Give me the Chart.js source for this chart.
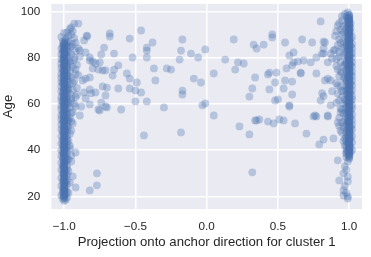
<!DOCTYPE html>
<html>
<head>
<meta charset="utf-8">
<script src="https://cdn.jsdelivr.net/npm/chart.js@4.4.1/dist/chart.umd.min.js"></script>
<style>
  html, body { margin: 0; padding: 0; background: #ffffff; }
</style>
</head>
<body>
<canvas id="chart" width="371" height="257"></canvas>
<script>
// tick labels
const xTicks = [-1.0, -0.5, 0.0, 0.5, 1.0]
const yTicks = [20, 40, 60, 80, 100]

// dense band at projection ~ -1
const leftBandAge = [
  18.1,18.6,19.0,19.5,20.1,20.4,21.0,21.6,22.0,22.5,
  23.1,23.4,24.0,24.6,25.0,25.5,26.1,26.4,27.0,27.6,
  28.0,28.5,29.1,29.4,30.0,30.6,31.0,31.5,32.1,32.4,
  33.0,33.6,34.0,34.5,35.1,35.4,36.0,36.6,37.0,37.5,
  38.1,38.4,39.0,39.6,40.0,40.5,41.1,41.4,42.0,42.6,
  43.0,43.5,44.1,44.4,45.0,45.6,46.0,46.5,47.1,47.4,
  48.0,48.6,49.0,49.5,50.1,50.4,51.0,51.6,52.0,52.5,
  53.1,53.4,54.0,54.6,55.0,55.5,56.1,56.4,57.0,57.6,
  58.0,58.5,59.1,59.4,60.0,60.6,61.0,61.5,62.1,62.4,
  63.0,63.6,64.0,64.5,65.1,65.4,66.0,66.6,67.0,67.5,
  68.1,68.4,69.0,69.6,70.0,70.5,71.1,71.4,72.0,72.6,
  73.0,73.5,74.1,74.4,75.0,75.6,76.0,76.5,77.1,77.4,
  78.0,78.6,79.0,79.5,80.1,80.4,81.0,81.6,82.0,82.5,
  83.1,83.4,84.0,84.6,85.0,85.5,86.1,86.4,87.0,87.6
]
const leftBandX = [
  -1.00,-0.99,-1.01,-0.98,-1.00,-1.02,-0.99,-1.01,-0.98,-1.00,
  -1.01,-0.99,-1.00,-1.02,-0.98,-1.00,-0.99,-1.01,-0.98,-1.00,
  -1.02,-0.99,-1.00,-0.98,-1.01,-1.00,-0.99,-1.02,-0.98,-1.00,
  -1.01,-0.98,-1.00,-1.02,-0.99,-1.00,-0.98,-1.01,-0.99,-1.02,
  -0.98,-1.00,-1.01,-0.98,-1.02,-0.99,-1.00,-0.98,-1.01,-1.00,
  -1.02,-0.98,-0.99,-1.01,-0.98,-1.00,-1.02,-0.98,-1.00,-0.99,
  -1.01,-0.98,-1.02,-0.99,-1.00,-0.98,-1.02,-0.98,-1.00,-1.01,
  -0.98,-1.02,-0.98,-1.00,-1.02,-0.98,-1.01,-0.98,-0.99,-1.02,
  -0.98,-1.00,-1.02,-0.98,-0.99,-1.01,-0.98,-1.02,-0.98,-1.00,
  -1.02,-0.98,-0.99,-1.01,-0.98,-1.02,-0.98,-1.00,-0.98,-1.02,
  -0.99,-0.98,-1.01,-1.02,-0.98,-1.00,-0.98,-1.02,-0.98,-1.00,
  -1.02,-0.98,-0.99,-1.01,-0.98,-1.02,-0.98,-1.00,-0.98,-1.02,
  -0.99,-0.98,-1.01,-1.02,-0.98,-1.00,-0.98,-1.02,-0.99,-1.01,
  -0.98,-1.00,-1.02,-0.98,-1.01,-0.99,-1.00,-0.98,-1.01,-0.99
]
// many samples sit exactly on -1
const leftCoreX = -1.0
const leftCoreAge = [
  19.3,19.8,20.3,20.8,21.3,21.8,22.3,22.8,23.3,23.8,
  24.3,24.8,25.3,25.8,26.3,26.8,27.3,27.8,28.3,28.8,
  29.3,29.8,30.3,30.8,31.3,31.8,32.3,32.8,33.3,33.8,
  34.3,34.8,35.3,35.8,36.3,36.8,37.3,37.8,38.3,38.8,
  39.3,39.8,40.3,40.8,41.3,41.8,42.3,42.8,43.3,43.8,
  44.3,44.8,45.3,45.8,46.3,46.8,47.3,47.8,48.3,48.8,
  49.3,49.8,50.3,50.8,51.3,51.8,52.3,52.8,53.3,53.8,
  54.3,54.8,55.3,55.8,56.3,56.8,57.3,57.8,58.3,58.8,
  59.3,59.8,60.3,60.8,61.3,61.8,62.3,62.8,63.3,63.8,
  64.3,64.8,65.3,65.8,66.3,66.8,67.3,67.8,68.3,68.8,
  69.3,69.8,70.3,70.8,71.3,71.8,72.3,72.8,73.3,73.8,
  74.3,74.8,75.3,75.8,76.3,76.8,77.3,77.8,78.3,78.8,
  79.3,79.8,80.3,80.8,81.3,81.8,82.3,82.8,83.3,83.8,
  84.3,84.8,85.3,85.8,86.3,86.8
]

// dense band at projection ~ +1
const rightBandAge = [
  38.0,38.6,39.0,39.5,40.1,40.4,41.0,41.6,42.0,42.5,
  43.1,43.4,44.0,44.6,45.0,45.5,46.1,46.4,47.0,47.6,
  48.0,48.5,49.1,49.4,50.0,50.6,51.0,51.5,52.1,52.4,
  53.0,53.6,54.0,54.5,55.1,55.4,56.0,56.6,57.0,57.5,
  58.1,58.4,59.0,59.6,60.0,60.5,61.1,61.4,62.0,62.6,
  63.0,63.5,64.1,64.4,65.0,65.6,66.0,66.5,67.1,67.4,
  68.0,68.6,69.0,69.5,70.1,70.4,71.0,71.6,72.0,72.5,
  73.1,73.4,74.0,74.6,75.0,75.5,76.1,76.4,77.0,77.6,
  78.0,78.5,79.1,79.4,80.0,80.6,81.0,81.5,82.1,82.4,
  83.0,83.6,84.0,84.5,85.1,85.4,86.0,86.6,87.0,87.5,
  88.1,88.4,89.0,89.6,90.0,90.5,91.1,91.4,92.0,92.6,
  93.0,93.5,94.1,94.4,95.0,95.6,96.0,96.5,97.1,97.6
]
const rightBandX = [
  1.00,0.98,1.01,0.99,1.02,0.98,1.00,1.01,0.98,1.00,
  0.99,1.02,0.98,1.00,1.01,0.98,1.02,0.99,0.98,1.01,
  1.00,0.98,1.02,0.99,1.01,0.98,1.02,0.98,1.00,0.99,
  1.02,0.99,1.01,0.98,1.00,1.02,0.98,0.99,1.01,0.99,
  1.02,0.98,1.00,1.02,0.98,0.99,1.01,0.98,1.02,0.99,
  1.00,1.02,0.98,0.99,1.01,0.98,1.02,0.99,1.00,0.98,
  1.02,0.99,1.01,0.98,1.02,0.98,1.00,0.99,1.02,0.99,
  1.01,0.98,1.02,0.98,1.00,0.99,1.02,0.99,1.01,0.98,
  1.02,0.98,1.00,0.99,1.02,0.99,1.01,0.98,1.02,0.98,
  1.00,0.99,1.02,0.99,1.01,0.98,1.02,0.98,1.00,0.99,
  1.01,0.99,1.02,0.98,1.00,0.99,1.01,0.99,1.00,0.98,
  1.01,0.99,1.00,0.98,1.01,0.99,1.00,0.99,1.00,0.99
]
// many samples sit exactly on +1
const rightCoreX = 1.0
const rightCoreAge = [
  36.3,36.8,37.3,37.8,38.3,38.8,39.3,39.8,
  40.3,40.8,41.3,41.8,42.3,42.8,43.3,43.8,44.3,44.8,
  45.3,45.8,46.3,46.8,47.3,47.8,48.3,48.8,49.3,49.8,
  50.3,50.8,51.3,51.8,52.3,52.8,53.3,53.8,54.3,54.8,
  55.3,55.8,56.3,56.8,57.3,57.8,58.3,58.8,59.3,59.8,
  60.3,60.8,61.3,61.8,62.3,62.8,63.3,63.8,64.3,64.8,
  65.3,65.8,66.3,66.8,67.3,67.8,68.3,68.8,69.3,69.8,
  70.3,70.8,71.3,71.8,72.3,72.8,73.3,73.8,74.3,74.8,
  75.3,75.8,76.3,76.8,77.3,77.8,78.3,78.8,79.3,79.8,
  80.3,80.8,81.3,81.8,82.3,82.8,83.3,83.8,84.3,84.8,
  85.3,85.8,86.3,86.8,87.3,87.8,88.3,88.8,89.3,89.8,
  90.3,90.8,91.3,91.8,92.3,92.8,93.3,93.8,94.3,94.8,
  95.3,95.8,96.3,96.8,97.3,97.8,98.4
]

// looser points around the two bands
const haloX = [
  -0.96,-0.98,-0.95,-0.93,-0.97,-1.00,-1.02,-0.99,-0.94,-0.96,
  -0.92,-0.95,-0.93,-0.96,-0.91,-0.94,-0.96,-0.92,-0.95,-0.93,
  -0.96,-0.91,-0.94,-0.96,-0.92,-0.95,-0.93,-0.96,-0.94,-0.96,
  -0.95,-0.97,-0.96,-0.97,-0.96,-0.97,-0.97,-0.96,-0.97,
  -0.94,-0.97,-0.92,-0.95,-0.90,-0.97,-0.93,-0.89,-0.96,-0.92,
  -0.97,-0.90,-0.94,-0.97,-0.91,-0.95,-0.97,-0.92,-0.95,-0.97,
  0.97,0.99,1.00,0.98,0.95,0.93,0.96,0.94,0.91,0.95,
  0.93,0.96,0.92,0.95,0.93,0.96,0.91,0.94,0.96,0.92,
  0.95,0.93,0.96,0.91,0.94,0.96,0.92,0.95,0.93,0.96,
  0.94,0.96,0.93,0.95,0.96,0.95,0.97,0.97,0.98,0.98,
  0.97,0.98,0.99,0.97,0.98,0.99,
  0.95,0.92,0.96,0.90,0.94,0.97,0.90,0.93,0.97,0.91,
  0.94,0.97,0.92,0.95,0.97,0.91,0.95,0.97,0.93,0.96
]
const haloAge = [
  92.5,91.0,90.0,88.5,89.5,90.8,89.0,88.2,86.0,84.5,
  83.0,81.5,80.0,78.5,77.0,76.0,74.5,73.0,71.5,70.0,
  68.5,67.0,66.0,64.5,63.0,61.5,60.0,58.5,56.5,54.0,
  52.5,50.0,47.0,44.0,42.0,36.0,31.0,26.0,21.5,
  91.5,87.0,86.5,85.0,84.0,82.5,79.0,80.5,77.5,75.0,
  72.0,72.5,69.0,66.5,64.0,62.5,60.5,59.0,56.0,53.0,
  99.0,99.6,98.5,97.8,96.2,95.0,93.5,92.0,91.5,90.0,
  88.0,87.0,85.5,84.0,82.5,81.0,79.5,78.0,76.5,75.0,
  73.5,72.0,70.5,69.0,67.5,66.0,64.5,63.0,61.5,60.0,
  58.0,56.0,54.0,52.0,50.0,47.5,45.0,42.0,39.0,37.0,
  33.0,31.5,28.5,24.5,21.5,20.0,
  98.0,94.0,91.0,89.5,86.5,84.5,83.5,80.5,77.0,76.5,
  74.0,71.5,68.0,65.5,62.0,60.5,57.5,53.0,50.5,44.0
]

// sparse points in between
const scatterX = [
  -0.90,-0.84,-0.68,-0.68,-0.54,-0.46,-0.38,-0.42,-0.42,-0.17,
  -0.72,-0.74,-0.65,-0.52,-0.42,-0.19,-0.80,-0.82,-0.78,-0.37,
  -0.28,-0.25,-0.65,-0.62,-0.71,-0.76,-0.66,-0.82,-0.56,-0.54,
  -0.49,-0.36,-0.73,-0.70,-0.62,-0.54,-0.50,-0.46,-0.71,-0.78,
  -0.82,-0.17,-0.17,-0.88,-0.82,-0.74,-0.71,-0.76,-0.60,-0.50,
  -0.42,-0.30,-0.89,-0.93,-0.95,-0.84,-0.86,-0.89,-0.85,-0.82,
  -0.75,-0.80,-0.73,-0.87,-0.85,-0.86,-0.81,-0.85,-0.94,-0.95,
  -0.75,-0.70,-0.44,-0.18,-0.92,-0.96,-0.77,-0.77,-0.82,-0.92,
  -0.94,-0.95,-0.95,-0.18,
  0.80,0.46,0.46,0.19,0.33,0.35,0.40,0.55,0.67,0.74,
  0.82,-0.11,-0.06,-0.01,0.13,0.22,0.26,0.20,0.05,-0.09,
  -0.04,0.34,0.43,0.44,0.49,0.48,0.56,0.60,0.61,0.58,
  0.61,0.64,0.68,0.73,0.77,0.81,0.66,0.60,0.55,0.77,
  0.32,0.30,0.44,0.48,0.50,0.54,0.60,0.58,-0.03,-0.01,
  0.05,0.34,0.37,0.43,0.47,0.51,0.54,0.62,0.75,0.77,
  0.85,0.23,0.80,0.30,0.32,0.70,0.79,0.82,0.89,0.92,
  0.93,0.96,0.96,0.96,0.99,0.99,0.99,0.83,0.82,0.82,
  0.87,0.88,0.85,0.89,0.87,0.83,0.81,0.82,0.88,0.87,
  0.85,0.94,0.92,0.94,0.76,0.58,0.66,0.85,0.35
]
const scatterAge = [
  94.8,89.2,90.5,89.2,88.3,91.8,86.6,84.4,83.1,87.9,
  84.4,81.4,81.8,80.1,80.1,79.2,78.4,78.8,77.5,75.4,
  75.4,74.9,74.9,76.7,74.5,74.9,72.3,71.5,73.2,71.0,
  69.3,70.2,67.6,67.1,66.7,66.7,65.8,65.0,63.7,65.0,
  66.3,65.8,64.1,58.9,59.8,60.6,58.9,57.6,57.6,61.1,
  61.1,58.5,55.0,94.8,93.1,89.6,87.5,83.1,82.3,80.1,
  78.0,75.4,74.5,70.2,71.0,65.0,64.6,62.4,51.6,48.5,
  57.2,58.5,46.4,47.7,39.0,40.8,30.0,24.8,22.6,23.9,
  28.7,35.1,37.7,83.1,
  95.7,90.1,88.8,87.9,85.7,84.0,85.7,86.6,87.9,86.6,
  87.0,81.8,80.1,83.6,79.2,78.0,77.5,74.9,73.2,71.0,
  69.3,71.5,72.8,73.6,73.6,69.3,75.4,76.7,78.0,81.0,
  82.3,78.4,78.8,78.0,80.1,81.8,73.2,69.7,70.2,73.2,
  66.7,63.2,66.3,61.5,62.0,66.7,64.1,58.9,59.4,60.2,
  55.0,52.9,53.3,52.4,51.6,53.3,52.9,51.6,54.6,54.6,
  54.6,50.3,61.5,46.8,30.4,47.2,42.5,44.6,45.1,35.6,
  26.9,30.0,22.6,20.4,26.5,19.1,35.1,86.6,84.0,81.8,
  81.8,79.7,78.0,83.1,70.2,70.2,64.7,63.4,65.5,59.4,
  55.0,56.3,52.0,48.5,55.0,59.4,73.6,71.0,52.9
]

const zip = (xs, ys) => xs.map((x, i) => ({ x: x, y: ys[i] }))
const points = [].concat(
  zip(leftBandX, leftBandAge),
  leftCoreAge.map(a => ({ x: leftCoreX, y: a })),
  zip(rightBandX, rightBandAge),
  rightCoreAge.map(a => ({ x: rightCoreX, y: a })),
  zip(haloX, haloAge),
  zip(scatterX, scatterAge)
)

const fontFamily = "'Liberation Sans', Arial, sans-serif"
const textColor = '#262626'

function fmtX(v) {
  const s = Math.abs(v).toFixed(1)
  return v < 0 ? '\u2212' + s : s
}

// grey plot background like seaborn darkgrid
const plotBackground = {
  id: 'plotBackground',
  beforeDraw(chart) {
    const { ctx, chartArea } = chart
    ctx.save()
    ctx.fillStyle = '#EAEAF2'
    ctx.fillRect(chartArea.left, chartArea.top, chartArea.right - chartArea.left, chartArea.bottom - chartArea.top)
    ctx.restore()
  }
}

const ctx = document.getElementById('chart').getContext('2d')
new Chart(ctx, {
  type: 'scatter',
  data: {
    datasets: [{
      data: points,
      backgroundColor: 'rgba(76, 114, 176, 0.33)',
      borderWidth: 0,
      pointRadius: 3.9,
      pointHoverRadius: 3.9
    }]
  },
  options: {
    responsive: false,
    animation: false,
    layout: { padding: { left: 0, right: 9, top: 3.5, bottom: 7 } },
    plugins: {
      legend: { display: false },
      tooltip: { enabled: false }
    },
    scales: {
      x: {
        type: 'linear',
        min: -1.09,
        max: 1.09,
        afterBuildTicks: scale => { scale.ticks = xTicks.map(v => ({ value: v })) },
        ticks: {
          callback: v => fmtX(v),
          color: textColor,
          font: { family: fontFamily, size: 11.7 },
          padding: 0,
          maxRotation: 0
        },
        // transparent tick marks give the gap between area and labels
        grid: { color: '#ffffff', lineWidth: 1.5, drawTicks: true, tickLength: 11, tickColor: 'rgba(0,0,0,0)' },
        border: { display: false },
        title: {
          display: true,
          text: 'Projection onto anchor direction for cluster 1',
          color: textColor,
          font: { family: fontFamily, size: 13.2 },
          padding: { top: 0, bottom: 0 }
        }
      },
      y: {
        type: 'linear',
        min: 14.5,
        max: 103.3,
        afterBuildTicks: scale => { scale.ticks = yTicks.map(v => ({ value: v })) },
        ticks: {
          callback: v => String(v),
          color: textColor,
          font: { family: fontFamily, size: 11.7, lineHeight: 0.5 },
          padding: 0
        },
        grid: { color: '#ffffff', lineWidth: 1.5, drawTicks: true, tickLength: 11, tickColor: 'rgba(0,0,0,0)' },
        border: { display: false },
        title: {
          display: true,
          text: 'Age',
          color: textColor,
          font: { family: fontFamily, size: 13.2 },
          padding: { top: 0.5, bottom: 4.5 }
        }
      }
    }
  },
  plugins: [plotBackground]
})
</script>
</body>
</html>
